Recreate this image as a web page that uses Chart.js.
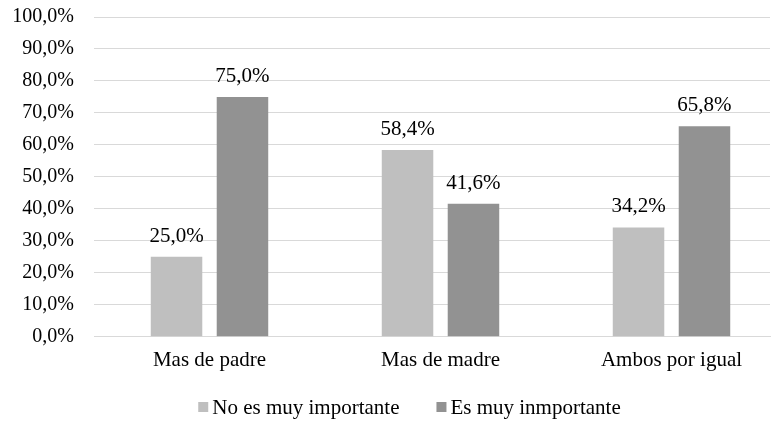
<!DOCTYPE html>
<html>
<head>
<meta charset="utf-8">
<script src="https://cdn.jsdelivr.net/npm/chart.js@4/dist/chart.umd.min.js"></script>
<style>
  html, body { margin: 0; padding: 0; background: #ffffff; }
  #wrap { width: 779px; height: 421px; }
</style>
</head>
<body>
<div id="wrap"><canvas id="c" width="779" height="421"></canvas></div>
<script>
const categories = ["Mas de padre", "Mas de madre", "Ambos por igual"];
const noImportante = [25.0, 58.4, 34.2];
const muyImportante = [75.0, 41.6, 65.8];
const seriesNames = ["No es muy importante", "Es muy inmportante"];
const seriesColors = ["#bfbfbf", "#929292"];

const fmt = v => v.toFixed(1).replace(".", ",") + "%";
const FONT = "'Liberation Serif', 'Times New Roman', serif";
const TEXT_SIZE = 21;

// Category positions on a numeric axis: groups sit at 0, 1, 2
const toPoints = values => values.map((v, i) => ({ x: i, y: v }));

// Writes each bar's value above it
const valueLabels = {
  id: "valueLabels",
  afterDatasetsDraw(chart) {
    const ctx = chart.ctx;
    ctx.save();
    ctx.font = TEXT_SIZE + "px " + FONT;
    ctx.fillStyle = "#000000";
    ctx.textAlign = "center";
    ctx.textBaseline = "alphabetic";
    chart.data.datasets.forEach((ds, i) => {
      chart.getDatasetMeta(i).data.forEach((bar, j) => {
        ctx.fillText(fmt(ds.data[j].y), bar.x, bar.y - 15);
      });
    });
    ctx.restore();
  }
};

// Compact legend row under the axis: small square swatch, tight gap, then text
const bottomLegend = {
  id: "bottomLegend",
  afterDraw(chart) {
    const ctx = chart.ctx;
    const box = 10, gap = 4, spacing = 37;
    ctx.save();
    ctx.font = TEXT_SIZE + "px " + FONT;
    const widths = chart.data.datasets.map(ds => ctx.measureText(ds.label).width);
    const total = widths.reduce((a, w) => a + box + gap + w, 0) + spacing * (widths.length - 1);
    let x = chart.width / 2 + 20 - total / 2;
    const cy = 407;
    ctx.textBaseline = "middle";
    ctx.textAlign = "left";
    chart.data.datasets.forEach((ds, i) => {
      ctx.fillStyle = ds.backgroundColor;
      ctx.fillRect(x, cy - box / 2, box, box);
      ctx.fillStyle = "#000000";
      ctx.fillText(ds.label, x + box + gap, cy + 1);
      x += box + gap + widths[i] + spacing;
    });
    ctx.restore();
  }
};

new Chart(document.getElementById("c"), {
  type: "bar",
  data: {
    datasets: [
      { label: seriesNames[0], data: toPoints(noImportante), backgroundColor: seriesColors[0] },
      { label: seriesNames[1], data: toPoints(muyImportante), backgroundColor: seriesColors[1] }
    ]
  },
  options: {
    responsive: false,
    animation: false,
    devicePixelRatio: 1,
    layout: { padding: { left: 0, right: 9, top: 17, bottom: 37 } },
    datasets: { bar: { categoryPercentage: 0.571, barPercentage: 0.781 } },
    scales: {
      x: {
        type: "linear",
        offset: false,
        min: -0.5,
        max: 2.4264,
        afterBuildTicks: scale => {
          scale.ticks = categories.map((_, i) => ({ value: i }));
        },
        afterFit: scale => { scale.paddingLeft = 0; scale.paddingRight = 0; },
        grid: { display: false, drawTicks: false },
        border: { display: true, color: "#d9d9d9", width: 1 },
        ticks: {
          color: "#000000",
          font: { family: FONT, size: TEXT_SIZE },
          padding: 11,
          maxRotation: 0,
          autoSkip: false,
          callback: v => categories[v] ?? ""
        }
      },
      y: {
        min: 0, max: 100,
        afterFit: scale => { scale.width = 94; scale.paddingTop = 0; scale.paddingBottom = 0; },
        grid: { color: "#d9d9d9", drawTicks: false },
        border: { display: false },
        ticks: {
          stepSize: 10,
          color: "#000000",
          font: { family: FONT, size: 20 },
          padding: 20,
          callback: v => fmt(v)
        }
      }
    },
    plugins: {
      legend: { display: false },
      tooltip: { enabled: false }
    }
  },
  plugins: [valueLabels, bottomLegend]
});
</script>
</body>
</html>
